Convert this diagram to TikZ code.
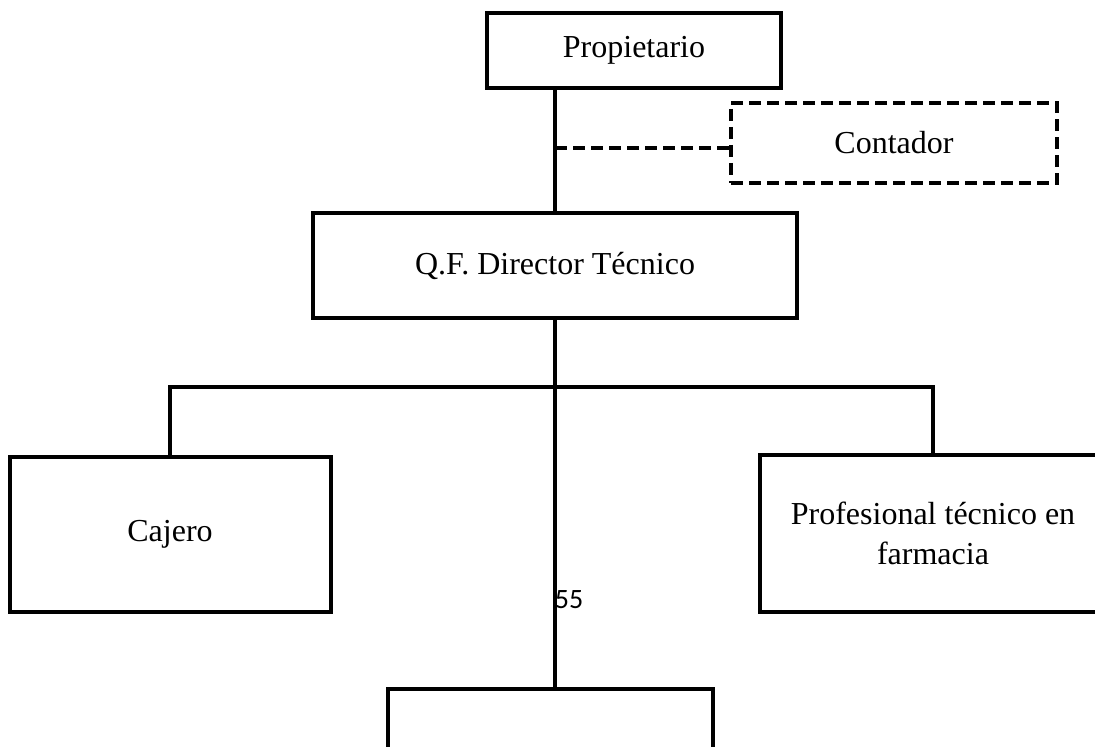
\documentclass[tikz,border=0pt]{standalone}
\usepackage{fontspec}
\setmainfont{Liberation Serif}
\newfontfamily\pagefont{Carlito}
\usepackage{tikz}
\usetikzlibrary{calc}

\begin{document}
\begin{tikzpicture}[x=0.5pt,y=-0.5pt,
    box/.style={draw,line width=2pt,align=center,inner sep=0pt,
      font=\fontsize{16}{20}\selectfont},
    dbox/.style={box,dash pattern=on 6pt off 3pt,line width=1.8pt},
    link/.style={line width=2pt}]
    \useasboundingbox (0,0) rectangle (1095,747);
    \clip (0,0) rectangle (1095,747);
    \node[box,minimum width=147pt,minimum height=37.5pt] (prop) at (634,50.5) {Propietario};
    \node[dbox,minimum width=163pt,minimum height=40pt] (cont) at (894,143) {Contador};
    \node[box,minimum width=242pt,minimum height=52.5pt] (dir) at (555,265.5) {Q.F. Director T\'ecnico};
    \node[box,minimum width=160.5pt,minimum height=77.5pt] (caj) at (170,534.5) {Cajero};
    \node[box,minimum width=173pt,minimum height=78.5pt] (prof) at (933,533.5) {Profesional t\'ecnico en\\farmacia};
    \node[box,minimum width=162.5pt,minimum height=60pt] (bot) at (550.5,749) {};
    \coordinate (bar) at (555,387);
    \coordinate (tap) at ($(cont.west)+(0,5)$);
    \draw[link] (dir.north) -- (dir.north |- prop.south);
    \draw[dbox,draw] (tap -| dir.north) -- (tap);
    \draw[link] (dir.south) -- (dir.south |- bot.north);
    \draw[link] (caj.north) -- (caj.north |- bar) -- (prof.north |- bar) -- (prof.north);
    \node[font=\pagefont\fontsize{14}{16}\selectfont] (pg) at (569,600) {55};
  \end{tikzpicture}
\end{document}
